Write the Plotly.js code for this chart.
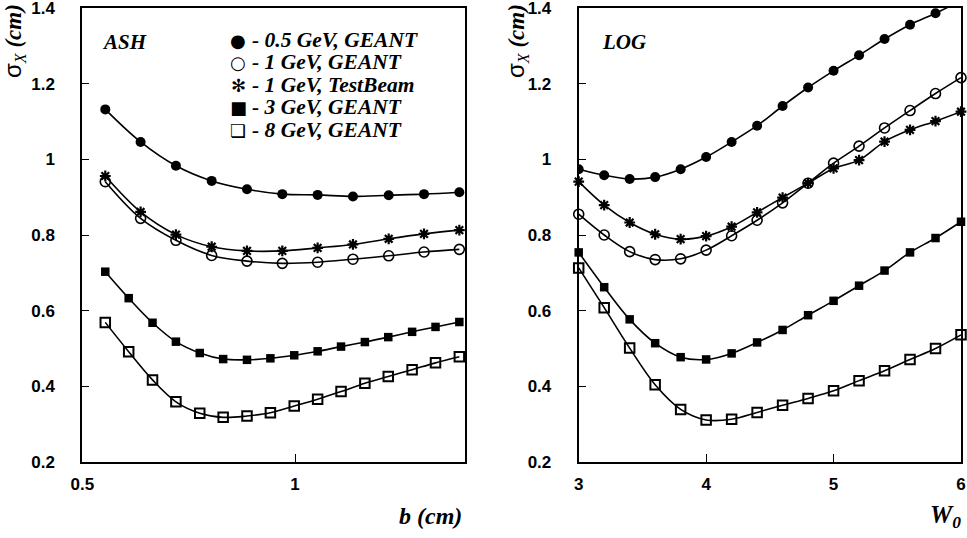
<!DOCTYPE html>
<html>
<head>
<meta charset="utf-8">
<script src="https://cdn.plot.ly/plotly-3.0.1.min.js"></script>
<style>html,body{margin:0;padding:0;background:#fff;}#chart{width:967px;height:538px;}</style>
</head>
<body>
<div id="chart"></div>
<script>
// ---- data ----
var bX11 = [0.554, 0.637, 0.720, 0.804, 0.887, 0.970, 1.053, 1.136, 1.220, 1.303, 1.386];
var bX16 = [0.554, 0.609, 0.665, 0.720, 0.776, 0.831, 0.887, 0.942, 0.998, 1.053, 1.108, 1.164, 1.219, 1.275, 1.330, 1.386];
var ash05 = [1.132, 1.046, 0.983, 0.943, 0.921, 0.908, 0.906, 0.902, 0.905, 0.908, 0.913];
var ash1  = [0.941, 0.844, 0.786, 0.746, 0.731, 0.725, 0.728, 0.736, 0.745, 0.755, 0.762];
var ashTB = [0.956, 0.861, 0.801, 0.769, 0.758, 0.758, 0.766, 0.775, 0.790, 0.803, 0.813];
var ash3  = [0.703, 0.633, 0.568, 0.518, 0.488, 0.472, 0.470, 0.474, 0.482, 0.4925, 0.505, 0.517, 0.530, 0.544, 0.557, 0.570];
var ash8  = [0.569, 0.4915, 0.417, 0.359, 0.329, 0.318, 0.3215, 0.330, 0.348, 0.366, 0.386, 0.408, 0.426, 0.444, 0.462, 0.478];

var w0 = [3.0, 3.2, 3.4, 3.6, 3.8, 4.0, 4.2, 4.4, 4.6, 4.8, 5.0, 5.2, 5.4, 5.6, 5.8, 6.0];
var log05 = [0.974, 0.958, 0.948, 0.953, 0.974, 1.006, 1.046, 1.089, 1.141, 1.190, 1.234, 1.275, 1.318, 1.356, 1.386, 1.42];
var log1  = [0.855, 0.800, 0.756, 0.735, 0.737, 0.760, 0.798, 0.839, 0.885, 0.937, 0.990, 1.035, 1.083, 1.129, 1.174, 1.216];
var logTB = [0.941, 0.879, 0.833, 0.802, 0.789, 0.797, 0.822, 0.860, 0.899, 0.937, 0.976, 0.998, 1.047, 1.078, 1.101, 1.126];
var log3  = [0.754, 0.662, 0.577, 0.514, 0.477, 0.471, 0.487, 0.516, 0.549, 0.588, 0.626, 0.666, 0.706, 0.754, 0.792, 0.835];
var log8  = [0.713, 0.608, 0.501, 0.404, 0.339, 0.311, 0.313, 0.331, 0.350, 0.368, 0.388, 0.415, 0.441, 0.471, 0.500, 0.536];

var yTicks = [0.2, 0.4, 0.6, 0.8, 1, 1.2, 1.4];
var yTickText = ['0.2', '0.4', '0.6', '0.8', '1', '1.2', '1.4'];
var bTicks = [0.5, 1];
var bTickText = ['0.5', '1'];
var wTicks = [3, 4, 5, 6];
var wTickText = ['3', '4', '5', '6'];

var legendSymbols = ['\u25CF', '\u25CB', '\u273B', '\u25A0', '\u274F'];
var legendLabels = ['- 0.5 GeV, GEANT', '- 1 GeV, GEANT', '- 1 GeV, TestBeam', '- 3 GeV, GEANT', '- 8 GeV, GEANT'];

// ---- styles ----
var styles = [
  {symbol: 'circle', size: 10, lw: 0},
  {symbol: 'circle-open', size: 10, lw: 1.6},
  {symbol: 'asterisk-open', size: 9, lw: 2.2},
  {symbol: 'square', size: 8.5, lw: 0},
  {symbol: 'square-open', size: 9.5, lw: 2}
];
function tr(x, y, s, xa, ya, clip) {
  var st = styles[s];
  return {
    x: x, y: y, xaxis: xa, yaxis: ya, type: 'scatter', mode: 'lines+markers',
    showlegend: false, cliponaxis: clip,
    line: {color: '#000', width: 1.6, shape: 'spline', smoothing: 1},
    marker: {symbol: st.symbol, size: st.size, color: '#000', line: {color: '#000', width: st.lw}}
  };
}
var data = [
  tr(bX11, ash05, 0, 'x', 'y', false),
  tr(bX11, ash1, 1, 'x', 'y', false),
  tr(bX11, ashTB, 2, 'x', 'y', false),
  tr(bX16, ash3, 3, 'x', 'y', false),
  tr(bX16, ash8, 4, 'x', 'y', false),
  tr(w0, log05, 0, 'x2', 'y2', true),
  tr(w0, log1, 1, 'x2', 'y2', false),
  tr(w0, logTB, 2, 'x2', 'y2', false),
  tr(w0, log3, 3, 'x2', 'y2', false),
  tr(w0, log8, 4, 'x2', 'y2', false)
];

var tickFont = {family: 'Liberation Sans, Arial, sans-serif', size: 17, color: '#000', weight: 'bold'};
var serif = 'Liberation Serif, Times New Roman, serif';
function yax(anchor) {
  return {
    domain: [76/538, 530/538], range: [0.1999, 1.4001], anchor: anchor,
    tickvals: yTicks, ticktext: yTickText, ticks: 'inside', ticklen: 7, tickwidth: 1, tickcolor: '#000',
    showline: true, linewidth: 2, linecolor: '#000', mirror: true,
    showgrid: false, zeroline: false, tickfont: tickFont, ticklabelstandoff: 22,
    ticklabeloverflow: 'allow'
  };
}
function xax(dom, range, tv, tt, anchor) {
  return {
    domain: dom, range: range, anchor: anchor,
    tickvals: tv, ticktext: tt, ticks: 'inside', ticklen: 8, tickwidth: 1, tickcolor: '#000',
    showline: true, linewidth: 2, linecolor: '#000', mirror: true,
    showgrid: false, zeroline: false, tickfont: tickFont, ticklabelstandoff: 6,
    ticklabeloverflow: 'allow'
  };
}

var ann = [];
function addText(x, y, text, size, xanchor) {
  ann.push({xref: 'paper', yref: 'paper', x: x/967, y: 1 - y/538, text: '<b><i>' + text + '</i></b>', showarrow: false,
    xanchor: xanchor || 'left', yanchor: 'middle',
    font: {family: serif, size: size, color: '#000'}});
}
// panel labels
addText(100, 42, 'ASH', 21, 'left');
addText(600, 42, 'LOG', 21, 'left');
// legend
var rowY = [40, 62, 85, 107, 130];
for (var i = 0; i < legendLabels.length; i++) {
  ann.push({xref: 'paper', yref: 'paper', x: 238/967, y: 1 - rowY[i]/538, text: legendSymbols[i], showarrow: false,
    xanchor: 'center', yanchor: 'middle',
    font: {family: 'DejaVu Sans, sans-serif', size: 18, color: '#000'}});
  addText(250, rowY[i], legendLabels[i], 21.5, 'left');
}
// axis titles
addText(464, 516, 'b (cm)', 24, 'right');
addText(963, 516, 'W<sub>0</sub>', 25, 'right');
// y titles
var yTitle = '<span style="font-family:Liberation Sans;font-size:24px">\u03C3</span><sub><i>X</i></sub> <b><i>(cm)</i></b>';
function yTitleAnn(x) {
  return {xref: 'paper', yref: 'paper', x: x/967, y: 1 - 2/538, text: yTitle, showarrow: false, textangle: -90,
    xanchor: 'center', yanchor: 'top', font: {family: serif, size: 23, color: '#000'}};
}
ann.push(yTitleAnn(14));
ann.push(yTitleAnn(517));

var layout = {
  width: 967, height: 538,
  margin: {l: 0, r: 0, t: 0, b: 0},
  paper_bgcolor: '#fff', plot_bgcolor: '#fff',
  showlegend: false,
  xaxis: xax([82.3/967, 465.3/967], [0.5, 1.4], bTicks, bTickText, 'y'),
  yaxis: yax('x'),
  xaxis2: xax([578.7/967, 961/967], [3, 6], wTicks, wTickText, 'y2'),
  yaxis2: yax('x2'),
  annotations: ann
};
Plotly.newPlot('chart', data, layout, {displayModeBar: false, staticPlot: true});
</script>
</body>
</html>
